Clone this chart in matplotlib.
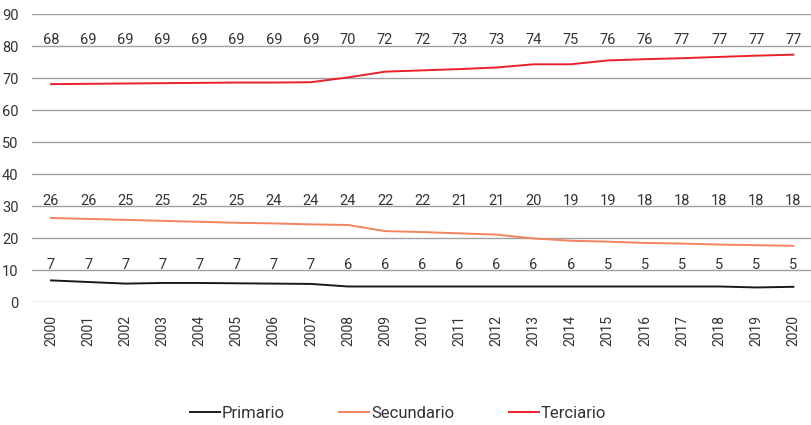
import matplotlib.pyplot as plt

years = [str(y) for y in range(2000, 2021)]

primario = [6.8, 6.3, 5.8, 6.0, 6.0, 5.9, 5.8, 5.7, 4.9, 4.9, 4.9, 4.9, 4.9, 4.9, 4.9, 4.9, 4.9, 4.9, 4.9, 4.6, 4.8]
secundario = [26.3, 26.0, 25.7, 25.4, 25.1, 24.8, 24.6, 24.3, 24.1, 22.2, 21.9, 21.5, 21.1, 19.9, 19.2, 18.9, 18.5, 18.3, 18.0, 17.8, 17.6]
terciario = [68.1, 68.2, 68.3, 68.4, 68.5, 68.6, 68.6, 68.7, 70.2, 72.0, 72.4, 72.8, 73.3, 74.3, 74.3, 75.5, 75.9, 76.2, 76.6, 77.0, 77.3]

lab_primario = [7, 7, 7, 7, 7, 7, 7, 7, 6, 6, 6, 6, 6, 6, 6, 5, 5, 5, 5, 5, 5]
lab_secundario = [26, 26, 25, 25, 25, 25, 24, 24, 24, 22, 22, 21, 21, 20, 19, 19, 18, 18, 18, 18, 18]
lab_terciario = [68, 69, 69, 69, 69, 69, 69, 69, 70, 72, 72, 73, 73, 74, 75, 76, 76, 77, 77, 77, 77]

plt.rcParams['font.family'] = ['Roboto', 'DejaVu Sans']
txt = '#333333'

fig = plt.figure(figsize=(8.12, 4.25), dpi=100)
ax = fig.add_axes([0.040, 0.289, 0.96, 0.678])

x = list(range(len(years)))
series = [
    ('Primario', primario, lab_primario, '#1a1a1a', 10),
    ('Secundario', secundario, lab_secundario, '#f4835f', 30),
    ('Terciario', terciario, lab_terciario, '#e8212b', 80),
]
for name, vals, labs, col, ly in series:
    ax.plot(x, vals, color=col, lw=1.4, label=name, solid_joinstyle='round')
    for i, v in enumerate(labs):
        ax.text(i, ly + 0.5, str(v), ha='center', va='baseline', fontsize=10.5, color=txt)

ax.set_ylim(0, 90)
ax.set_yticks(range(0, 91, 10))
ax.set_xlim(-0.5, len(years) - 0.5)
ax.set_xticks(x)
ax.set_xticklabels(years, rotation=90, fontsize=10, color=txt)
ax.tick_params(axis='y', length=0, labelsize=10.5, labelcolor=txt, pad=10)
ax.tick_params(axis='x', length=0, pad=9)
ax.grid(axis='y', color='#a0a0a0', lw=1)
ax.set_axisbelow(True)
for s in ax.spines.values():
    s.set_visible(False)

fig.legend(loc='lower center', bbox_to_anchor=(0.49, -0.025), ncol=3, frameon=False,
           fontsize=12, handlelength=1.8, handletextpad=0.1, columnspacing=3.3,
           labelcolor=txt)

fig.savefig('out.png', dpi=100)
